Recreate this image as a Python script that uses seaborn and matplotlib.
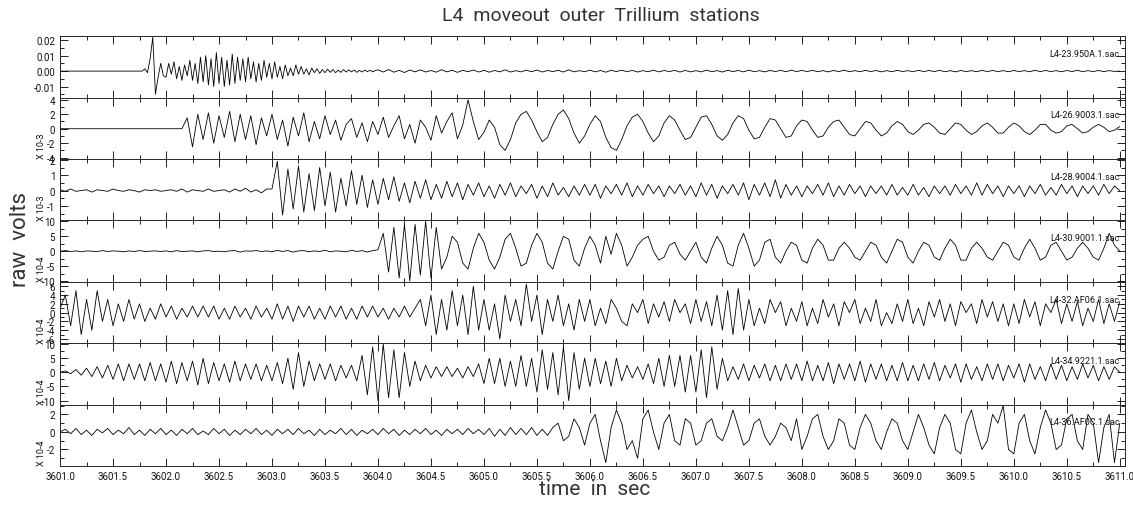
import numpy as np
import matplotlib
matplotlib.use("Agg")
import matplotlib.pyplot as plt
from matplotlib.ticker import MultipleLocator, FormatStrFormatter
import seaborn as sns

# sample spacing of the read-off traces (s) and start time
dt = 0.05
dt_fine = 0.025
t0 = 3601.0

# L4-23.950A (values in mV): fine-sampled first 3 s, then coarse
tr1_early_mv = [0] * 32 + [1.5, -1, 8, 22, -15, -4, 5, -3] + \
    [-4, 5, -2, 6, -5, 3, -6, 4, -3, 7, -6, 5, -8, 9, -7, 10, -9, 8, -10, 12,
     -8, 9, -10, 7, -9, 11, -8, 9, -6, 8, -7, 9, -5, 6, -7, 5, -6, 7, -4, 5,
     -5, 6, -4, 3, -5, 4, -3, 2, -3, 4, -2, 3, -2, 1.5, -2.5, 2, -1, 1.5, -1.5, 1,
     -1, 1.2, -0.8, 1, -1, 0.6, -0.8, 1, -0.6, 0.8, -0.5, 0.7, -0.8, 0.5, -0.6, 0.7, -0.4, 0.6, -0.5, 0.4]
tr1_late_mv = [0.8, -0.6, 1, -0.7, 0.5, -0.9, 0.7, -0.5, 0.8, -0.6, 0.4, -0.7, 0.9, -0.5, 0.6, -0.8, 0.5, -0.4, 0.7, -0.6,
               0.5, -0.7, 0.4, -0.5, 0.8, -0.6, 0.3, -0.5, 0.6, -0.4, 0.7, -0.6, 0.4, -0.3, 0.5, -0.6, 0.8, -0.5, 0.3, -0.4,
               0.6, -0.5, 0.4, -0.7, 0.5, -0.3, 0.6, -0.4, 0.5, -0.6, 0.3, -0.4, 0.6, -0.5, 0.4, -0.3, 0.5, -0.6, 0.4, -0.5,
               0.3, -0.5, 0.6, -0.4, 0.3, -0.6, 0.5, -0.3, 0.4, -0.5, 0.6, -0.4, 0.3, -0.5, 0.4, -0.3, 0.5, -0.4, 0.6, -0.3,
               0.4, -0.3, 0.5, -0.4, 0.3, -0.5, 0.4, -0.3, 0.6, -0.4, 0.3, -0.4, 0.5, -0.3, 0.4, -0.5, 0.3, -0.4, 0.5, -0.3,
               0.3, -0.4, 0.5, -0.3, 0.4, -0.3, 0.5, -0.4, 0.3, -0.5, 0.4, -0.3, 0.3, -0.4, 0.5, -0.3, 0.4, -0.3, 0.3, -0.4,
               0.4, -0.3, 0.3, -0.4, 0.5, -0.3, 0.4, -0.3, 0.3, -0.4, 0.4, -0.3, 0.5, -0.4, 0.3, -0.3, 0.4, -0.3, 0.3, -0.2, 0]

# L4-26.9003 (x 10-3)
tr2 = [0] * 20 + \
      [0, 0, 0, 0, 1.5, -2.5, 2, -1.5, 2.2, -2, 1.8, -1.2, 2.4, -1.8, 2, -1.5, 1.8, -2.2, 1.5, -1,
       2, -1.5, 1.2, -2.4, 1.6, -1, 2.2, -1.8, 1, -1.4, 1.8, -0.8, 1.2, -1.6, 0.6, 1.4, -1.2, 0.8, -1.8, 1,
       -0.8, 1.6, -1.2, 0.4, 1.8, -1.4, 0.6, -2, 1.2, 0.2, -1.6, 1.8, -0.6, 1, 2.2, -1.4, 0.5, 4, 1, -1.5,
       -0.5, 1.2, 0.2, -2.2, -3, -1.5, 0.8, 2, 2.4, 1.2, -0.4, -1.8, -1.2, 0.6, 2, 2.6, 1.4, -0.6, -2, -1,
       0.6, 1.8, 1, -1.2, -2.6, -3, -1.5, 0.4, 1.6, 2, 1, -0.6, -1.8, -1, 0.8, 1.8, 1.2, -0.2, -1.5, -1.2,
       0.2, 1.6, 1.8, 0.6, -1, -1.6, -0.8, 0.8, 1.8, 1.4, -0.2, -1.4, -1.2, 0.2, 1.4, 1.2, 0, -1.2, -1, 0.4,
       1.2, 1, -0.2, -1.2, -1, 0.2, 1, 1.2, 0.2, -0.8, -1, 0, 1, 0.8, -0.2, -1, -0.6, 0.4, 1, 0.6,
       -0.4, -0.8, -0.2, 0.6, 0.8, 0.2, -0.6, -0.8, 0, 0.8, 0.6, -0.2, -0.8, -0.4, 0.4, 0.8, 0.2, -0.6, -0.6, 0.2,
       0.8, 0.4, -0.4, -0.8, -0.2, 0.6, 0.6, -0.2, -0.6, -0.4, 0.4, 0.6, 0, -0.6, -0.4, 0.2, 0.6, 0.2, -0.4, -0.2, 0.3]

# L4-28.9004 (x 10-3)
tr3 = [0.05, -0.05, 0.1, -0.05, 0, 0.05, -0.1, 0.05, 0, -0.05, 0.1, 0, -0.05, 0.05, 0, -0.1, 0.05, 0, 0.05, -0.05,
       0, 0.05, -0.05, 0.1, -0.1, 0.05, 0, -0.05, 0.1, -0.05, 0, 0.05, -0.1, 0.1, -0.05, 0.15, -0.1, 0.05, -0.15, 0.1,
       0.1, 1.9, -1.6, 1.4, -1.2, 1.6, -1.4, 1.1, -1.3, 1.5, -1, 1.2, -1.4, 0.8, -1, 1.3, -0.9, 1, -1.1, 0.7,
       -0.9, 0.8, -0.6, 0.9, -0.7, 0.5, -0.8, 0.6, -0.5, 0.7, -0.6, 0.4, -0.5, 0.6, -0.4, 0.5, -0.6, 0.4, -0.3, 0.5,
       -0.4, 0.3, -0.5, 0.4, -0.3, 0.5, -0.4, 0.3, -0.2, 0.4, -0.5, 0.3, -0.4, 0.5, -0.3, 0.2, -0.4, 0.3, -0.3, 0.4,
       -0.3, 0.4, -0.5, 0.3, -0.2, 0.4, -0.3, 0.5, -0.4, 0.3, -0.3, 0.4, -0.2, 0.3, -0.4, 0.3, -0.2, 0.4, -0.3, 0.3,
       -0.4, 0.5, -0.3, 0.4, -0.5, 0.3, -0.2, 0.4, -0.3, 0.5, -0.6, 0.4, -0.3, 0.5, -0.4, 0.7, -0.5, 0.4, -0.3, 0.3,
       -0.4, 0.3, -0.2, 0.4, -0.3, 0.5, -0.4, 0.3, -0.3, 0.4, -0.2, 0.3, -0.4, 0.3, -0.2, 0.3, -0.3, 0.4, -0.3, 0.2,
       -0.3, 0.4, -0.3, 0.2, -0.4, 0.3, -0.2, 0.3, -0.3, 0.4, -0.2, 0.3, -0.3, 0.5, -0.3, 0.4, -0.2, 0.3, -0.4, 0.3,
       -0.2, 0.3, -0.4, 0.3, -0.2, 0.4, -0.3, 0.2, -0.3, 0.4, -0.2, 0.3, -0.4, 0.3, -0.2, 0.3, -0.3, 0.4, -0.2, 0.3, 0]

# L4-30.9001 (x 10-4)
tr4 = [0, 0.2, -0.1, 0.1, -0.2, 0.1, 0, -0.1, 0.2, -0.1, 0.1, 0, -0.2, 0.1, -0.1, 0.2, -0.1, 0, 0.1, -0.1,
       0.1, -0.2, 0.2, -0.1, 0, 0.1, -0.2, 0.1, 0.2, -0.1, 0, -0.2, 0.1, 0.2, -0.3, 0.1, 0, 0.2, -0.1, 0.1,
       -0.2, 0.3, -0.1, 0.2, -0.3, 0.1, 0.2, -0.2, 0.1, -0.1, 0.3, -0.2, 0.1, 0, -0.2, 0.3, -0.1, 0.2, -0.3, 0.2,
       0.5, 6, -7, 8, -9, 9, -10, 9, -8, 10, -9, 8, -6, -2, 5, 3, -4, -6, 1, 6,
       3, -3, -6, -2, 4, 6, 1, -5, -4, 2, 6, 3, -4, -6, 0, 5, 4, -3, -5, 1,
       5, 2, -4, 5, -1, 6, 2, -5, -2, 2, 4, 5, 0, -3, -2, 2, 3, -1, -3, 0,
       3, -2, -4, 1, 5, 2, -4, -5, 2, 6, 1, -5, -3, 3, 4, -2, -4, 0, 3, 2,
       -3, -4, 1, 4, 2, -3, -3, 1, 3, 1, -2, -3, 0, 3, 2, -2, -4, 0, 4, 3,
       -2, -4, 0, 3, 2, -2, -3, 1, 4, 2, -3, -3, 1, 3, 1, -2, -3, 0, 3, 2,
       -2, -3, 1, 4, 1, -3, -2, 2, 3, 0, -3, -2, 1, 3, 1, -2, -3, 1, 6, 2, 0]

# L4-32.AF06 (x 10-4)
tr5 = [1, 4, -3, 5, -5, 3, -4, 5, -2, 3, -3, 2, -2, 3, -1.5, 2, -2, 1, -1.5, 2,
       -1, 1.5, -1.5, 1, -1, 1.5, -1, 1.5, -1, 1.5, -1.5, 1, -1.5, 1.5, -1, 1, -1.5, 1.5, -1, 1,
       -1.5, 2, -1.5, 1.5, -2, 1.5, -1, 1.5, -1.5, 1, -1.5, 1.5, -1, 1.5, -1.5, 1, -1.5, 1.5, -1, 1.5,
       -1, 1, -1.5, 1, -1, 1.5, -1, 1, 3, -3, 4, -5, 3, -4, 5, -3, 4, -5, 6, -4,
       3, -4, 2, -6, 4, -2, 3, -3, 6.5, -2, 4, -5, 3, -2, 4, -3, 2, -4, 3, -2,
       3, -3, 1, -2.5, 3, 1, -2, -3, 2, 0, 3, -2.5, 2, -1, 2.5, -2, 3, 0, 2, -2.5,
       3, -2, 2.5, -3, 4, -4, 5, -5, 5.5, -4, 3, -3, 1, -2.5, 3, 0, 2.5, -3, 1, -2,
       2.5, -3, 1, -2.5, 3, -1, 2, -3, 2.5, 0, 3, -2.5, 1, -2, 3, -3, 0, -2.5, 2, -2,
       3, -2.5, 1, -3, 2.5, -1, 3, -2, 2, -3, 2.5, 0, 2, -2.5, 3, -1, 2.5, -2, 2, -3,
       2, -2.5, 3, -1, 2.5, -3, 2, 0, 3, -2.5, 2, -2, 2.5, -3, 1, -2, 3, -2.5, 2, -2, 2.5]

# L4-34.9221 (x 10-4)
tr6 = [0, 0.5, -0.5, 1, -1, 1.5, -1.5, 2, -2, 2.5, -2.5, 3, -3, 3, -2.5, 3, -3, 3.5, -3, 3,
       -3.5, 4, -4, 3.5, -3, 4, -4.5, 5, -4, 3.5, -3, 3, -3.5, 4, -3, 3, -2.5, 3, -3, 2.5,
       -3, 3.5, -4, 5, -6, 7, -5, 4, -3, 3, -2.5, 3, -3, 2.5, -2, 2.5, -3, 6, -8, 9,
       -10, 10, -9, 8, -9, 7, -5, 4, -3, 2.5, -2, 2, -1.5, 2, -1.5, 1.5, -2, 2, -1.5, 3,
       -4, 5, -4, 5, -5, 4, -5, 6, -5, 5, -7, 8, -6, 7, -8, 9, -10, 7, -6, 5,
       -5, 5, -4, 4, -5, 5, -3, 2.5, -2, 2, -2.5, 3, -4, 5, -5, 6, -5, 6, -7, 6,
       -7, 8, -9, 9, -6, 5, -3, 2, -2.5, 3, -3, 2.5, -2, 3, -3, 2.5, -3, 3, -2.5, 3,
       -3, 4, -3, 2.5, -3, 3.5, -4, 3, -2.5, 3, -3, 4, -3.5, 3, -2.5, 3, -3, 2.5, -3, 3.5,
       -3, 2.5, -3, 3, -2.5, 3.5, -3, 2.5, -2, 3, -3.5, 3, -2.5, 2, -3, 3, -2.5, 3, -3, 2.5,
       -2, 3, -3.5, 3, -2.5, 2, -3, 3, -2.5, 2.5, -3, 2, -2.5, 3, -2, 2.5, -3, 2, -2.5, 2, 0]

# L4-36.AF0C (x 10-4)
tr7 = [0, 0.3, -0.2, 0.4, -0.3, 0.2, -0.4, 0.3, -0.1, 0.4, -0.3, 0.2, -0.2, 0.5, -0.3, 0.2, -0.4, 0.3, -0.2, 0.4,
       -0.3, 0.2, -0.4, 0.3, -0.2, 0.4, -0.3, 0.1, -0.3, 0.4, -0.2, 0.3, -0.4, 0.2, -0.3, 0.3, -0.2, 0.4, -0.3, 0.2,
       -0.4, 0.3, -0.2, 0.3, -0.3, 0.4, -0.2, 0.2, -0.4, 0.3, -0.3, 0.2, -0.2, 0.4, -0.3, 0.3, -0.4, 0.2, -0.2, 0.3,
       -0.3, 0.4, -0.2, 0.3, -0.4, 0.2, -0.3, 0.3, -0.2, 0.4, -0.3, 0.2, -0.4, 0.3, -0.2, 0.3, -0.3, 0.4, -0.2, 0.3,
       -0.3, 0.4, -0.5, 0.3, -0.4, 0.5, -0.3, 0.4, -0.3, 0.5, -0.4, 0.3, -0.4, 0.5, 1, -1, -0.5, 1.5, 0.5, -1.5,
       1, 2, -1, -3.5, 0.5, 2.5, 1, -2, -1, -3, 1.5, 2.5, 0, -2, 1, 2, -1, -1.5, 1.5, 1,
       -1.5, -1, 1, 1.5, -0.5, -1, 0.5, 2.5, 0.5, -1.5, -1, 1, 1.5, -0.5, -1.5, -0.5, 1, 0.5, -1, 1.5,
       -2, -0.5, 1.5, 2, -0.5, -2, -1, 1.5, 1, -1.5, -2, 0.5, 2, 1, -1, -2, 0, 1.5, 1, -1,
       -2, 0, 2, 0.5, -1.5, -2.5, 0.5, 2, 1, -2, -2.5, 1, 2.5, 0, -2, -1, 2, 1, 3, -2,
       -2.5, 1, 2, -1, -2.5, 0.5, 2.5, 1, -2, -1.5, 1.5, 2, -1, -2, 2, 1, -3.5, 0.5, 2, -3.5, 1]

stations = ["L4-23.950A.1.sac", "L4-26.9003.1.sac", "L4-28.9004.1.sac", "L4-30.9001.1.sac",
            "L4-32.AF06.1.sac", "L4-34.9221.1.sac", "L4-36.AF0C.1.sac"]
multipliers = ["", "X 10-3", "X 10-3", "X 10-4", "X 10-4", "X 10-4", "X 10-4"]

# time axes
t_tr1 = np.concatenate([t0 + dt_fine * np.arange(len(tr1_early_mv)),
                        t0 + dt_fine * len(tr1_early_mv) + dt * np.arange(len(tr1_late_mv))])
v_tr1 = np.array(tr1_early_mv + tr1_late_mv) * 1e-3

series = [(t_tr1, v_tr1)]
for tr in [tr2, tr3, tr4, tr5, tr6, tr7]:
    series.append((t0 + dt * np.arange(len(tr)), np.asarray(tr, dtype=float)))

ylims = [(-0.0172, 0.0226), (-4.2, 4.3), (-1.95, 2.05), (-10.3, 10.3), (-7, 7), (-11.5, 10.3), (-3.9, 3.1)]
majors = [0.01, 2, 1, 5, 2, 5, 2]
minors = [0.005, 1, 0.5, 2.5, 1, 2.5, 1]

sns.set_style("ticks")
plt.rcParams['font.family'] = ['Roboto', 'DejaVu Sans']

fig = plt.figure(figsize=(11.33, 5.10), dpi=100)
axes = fig.subplots(7, 1, sharex=True, gridspec_kw=dict(hspace=0, left=0.053, right=0.993,
                                                          top=0.927, bottom=0.084))

for i, ax in enumerate(axes):
    t, v = series[i]
    sns.lineplot(x=t, y=v, ax=ax, color="black", linewidth=0.6, estimator=None, sort=False)
    ax.set_xlim(3601.0, 3611.05)
    ax.set_ylim(*ylims[i])
    ax.yaxis.set_major_locator(MultipleLocator(majors[i]))
    ax.yaxis.set_minor_locator(MultipleLocator(minors[i]))
    ax.xaxis.set_major_locator(MultipleLocator(0.5))
    ax.xaxis.set_minor_locator(MultipleLocator(0.25))
    ax.tick_params(which="both", direction="in", top=True, right=True, labelsize=7,
                   colors="black", labelcolor="#111111", width=0.6)
    ax.tick_params(which="major", length=6)
    ax.tick_params(which="minor", length=3)
    for s in ax.spines.values():
        s.set_linewidth(0.7)
    if i == 0:
        ax.yaxis.set_major_formatter(FormatStrFormatter("%.2f"))
    else:
        ax.yaxis.set_major_formatter(FormatStrFormatter("%g"))
        ax.text(-0.017, 0.22, multipliers[i], rotation=90, fontsize=6.5, ha="center", va="center",
                transform=ax.transAxes, color="#111111")
    ax.text(0.995, 0.72, stations[i], ha="right", va="center", fontsize=6.5, transform=ax.transAxes,
            color="#111111")
    ax.set_ylabel("")
    if i < 6:
        ax.tick_params(labelbottom=False)

axes[-1].xaxis.set_major_formatter(FormatStrFormatter("%.1f"))
axes[-1].tick_params(axis="x", labelsize=7)

fig.text(0.53, 0.968, "L4  moveout  outer  Trillium  stations", ha="center", va="center",
         fontsize=14, color="#333333")
fig.text(0.525, 0.04, "time  in  sec", ha="center", va="center", fontsize=15, color="#333333")
fig.text(0.018, 0.53, "raw  volts", rotation=90, ha="center", va="center", fontsize=16, color="#333333")

fig.savefig("out.png", dpi=100)
